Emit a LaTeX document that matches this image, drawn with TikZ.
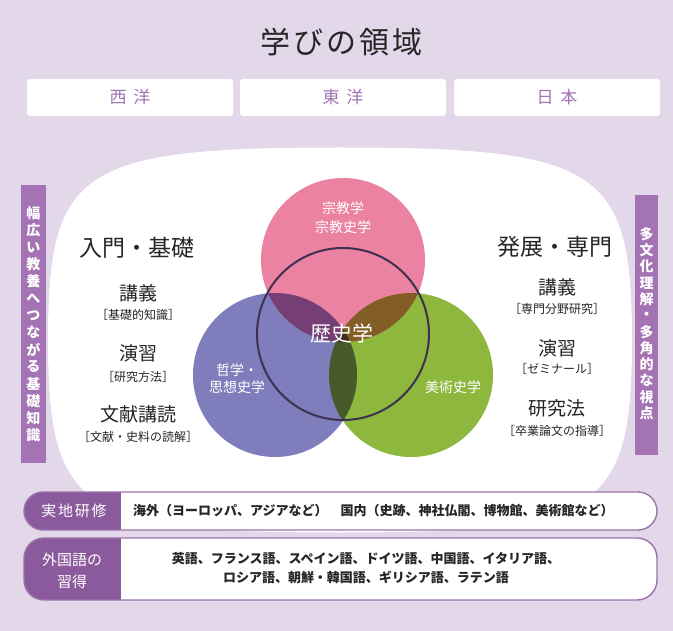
\documentclass[tikz,border=0pt]{standalone}
\usepackage{fontspec}
\setmainfont{Noto Sans CJK JP}
\usetikzlibrary{positioning}
\newcommand\fsz[1]{\fontsize{#1}{#1}\selectfont}
\definecolor{bglav}{HTML}{E3D7EA}
\definecolor{barpurple}{HTML}{A473B3}
\definecolor{tagpurple}{HTML}{8B5A9C}
\definecolor{headpurple}{HTML}{A171B5}
\definecolor{vpink}{HTML}{EC82A2}
\definecolor{vblue}{HTML}{7F7DBB}
\definecolor{vgreen}{HTML}{8DB83D}
\definecolor{ringdark}{HTML}{3D3050}
\definecolor{inkgray}{HTML}{262626}

\begin{document}
\begin{tikzpicture}[x=1pt, y=-1pt, every node/.style={inner sep=0pt},
    hbox/.style={fill=white, rounded corners=3pt, minimum width=206pt, minimum height=37pt, text=headpurple, font=\fsz{17}},
    sidech/.style={text=white, font=\fsz{14}\bfseries},
    circlab/.style={text=white, font=\fsz{14}, align=center},
    colhead/.style={text=inkgray, font=\fsz{23}},
    course/.style={text=inkgray, font=\fsz{19}},
    detail/.style={text=inkgray, font=\fsz{12}},
    tag/.style={text=white, font=\fsz{15}\addfontfeature{LetterSpace=12}, align=center},
    tagtext/.style={text=inkgray, font=\fsz{13}\bfseries, align=center}]
  \useasboundingbox (0,0) rectangle (673,631);
  \fill[bglav] (0,0) rectangle (673,631);
  % title and the three regions
  \node[text=inkgray, font=\fsz{30}\addfontfeature{LetterSpace=10}] (title) at (341,42) {学びの領域};
  \foreach \a/\b/\cx [count=\i] in {西/洋/130, 東/洋/343, 日/本/557}
    \node[hbox] (head\i) at (\cx,97.5) {\a\hspace{7pt}\b};
  % white field behind the venn
  \fill[white] (340,147.5) .. controls (600,147.5) and (632,169) .. (632,340)
    .. controls (632,511) and (600,532.5) .. (340,532.5)
    .. controls (80,532.5) and (48,511) .. (48,340)
    .. controls (48,169) and (80,147.5) .. (340,147.5);
  % side bars, text set one glyph under the other
  \fill[barpurple] (21,185) rectangle (46,463);
  \fill[barpurple] (635,195) rectangle (658,455);
  \foreach \ch [count=\i from 0] in {幅,広,い,教,養,へ,つ,な,が,る,基,礎,知,識}
    \node[sidech] (lv\i) at (33.5,213+17.1*\i) {\ch};
  \foreach \ch [count=\i from 0] in {多,文,化,理,解,・,多,角,的,な,視,点}
    \node[sidech] (rv\i) at (646.5,234+16.3*\i) {\ch};
  % venn of three fields round history
  \begin{scope}[blend mode=multiply]
    \fill[vpink] (343,260) circle[radius=82];
    \fill[vblue] (275,375) circle[radius=82];
    \fill[vgreen] (411,375) circle[radius=82];
  \end{scope}
  \draw[ringdark, line width=2pt] (343,334) circle[radius=86];
  \node[circlab, font=\fsz{14}\linespread{1.36}\selectfont] (relig) at (343,217.5) {宗教学\\宗教史学};
  \node[circlab, font=\fsz{14}\linespread{1.2}\selectfont] (philo) at (237,378.5) {哲学・\\思想史学};
  \node[circlab] (arts) at (453,387) {美術史学};
  \node[circlab, font=\fsz{21}] (hist) at (342,333) {歴史学};
  % left and right columns
  \node[colhead] (basic) at (137,248) {入門・基礎};
  \foreach \c/\d/\yc/\yd [count=\i] in {講義/基礎的知識/293/315, 演習/研究方法/353/377, 文献講読/文献・史料の読解/414/437} {
    \node[course] (lc\i) at (138,\yc) {\c};
    \node[detail] (ld\i) at (138,\yd) {［\d］};
  }
  \node[colhead] (adv) at (555,247) {発展・専門};
  \foreach \c/\d/\yc/\yd [count=\i] in {講義/専門分野研究/287/309, 演習/ゼミナール/348/369, 研究法/卒業論文の指導/408/431} {
    \node[course] (rc\i) at (557,\yc) {\c};
    \node[detail] (rd\i) at (557,\yd) {［\d］};
  }
  % bottom bars
  \begin{scope}
    \clip[rounded corners=19pt] (24,492) rectangle (657,530);
    \fill[white] (24,492) rectangle (657,530);
    \fill[tagpurple] (24,492) rectangle (121,530);
  \end{scope}
  \draw[tagpurple!85, line width=1.4pt, rounded corners=19pt] (24,492) rectangle (657,530);
  \begin{scope}
    \clip[rounded corners=20pt] (24,538) rectangle (657,600);
    \fill[white] (24,538) rectangle (657,600);
    \fill[tagpurple] (24,538) rectangle (121,600);
  \end{scope}
  \draw[tagpurple!85, line width=1.4pt, rounded corners=20pt] (24,538) rectangle (657,600);
  \node[tag] (field) at (74,511) {実地研修};
  \node[tagtext, anchor=west] (fieldtxt) at (133,511) {海外（ヨーロッパ、アジアなど）　国内（史跡、神社仏閣、博物館、美術館など）};
  \node[tag, font=\fsz{15}\linespread{1.45}\selectfont] (lang) at (72,571) {外国語の\\習得};
  \node[tagtext, font=\fsz{13}\bfseries\linespread{1.5}\selectfont] (langtxt) at (366,568)
    {英語、フランス語、スペイン語、ドイツ語、中国語、イタリア語、\\ロシア語、朝鮮・韓国語、ギリシア語、ラテン語};
\end{tikzpicture}
\end{document}
